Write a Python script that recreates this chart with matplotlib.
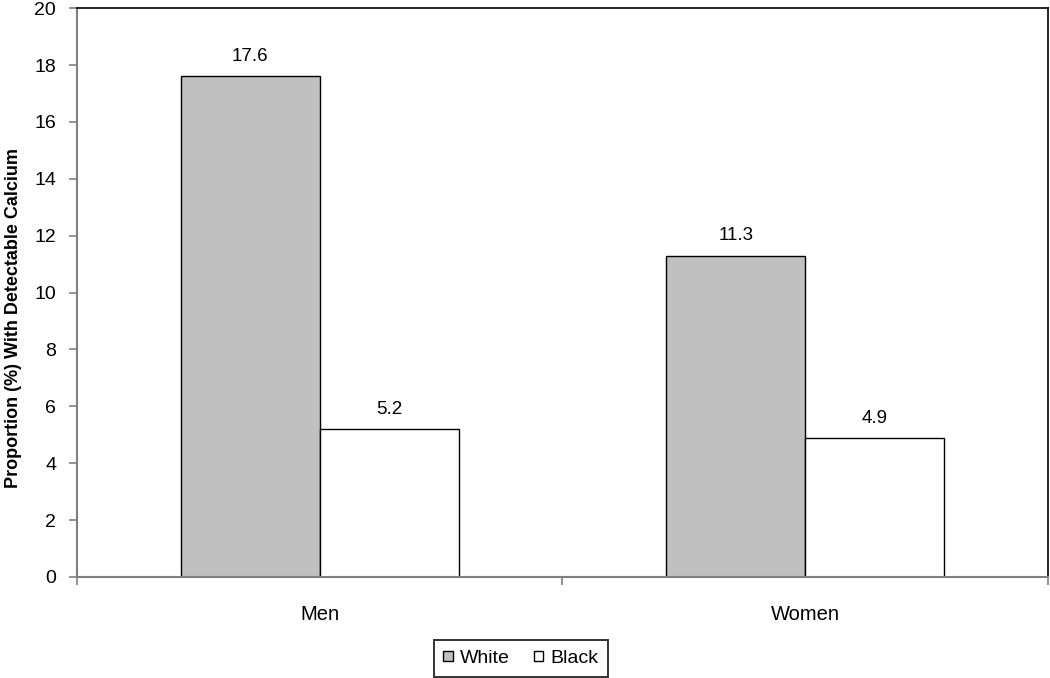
import matplotlib
matplotlib.use("Agg")
import matplotlib.pyplot as plt
import numpy as np

categories = ["Men", "Women"]
series_names = ["White", "Black"]
white_values = [17.6, 11.3]
black_values = [5.2, 4.9]
yticks = [0, 2, 4, 6, 8, 10, 12, 14, 16, 18, 20]

plt.rcParams['font.family'] = ['Liberation Sans', 'DejaVu Sans']

fig = plt.figure(figsize=(10.5, 6.78), dpi=100)
ax = fig.add_axes([0.0733, 0.149, 0.9247, 0.839])

x = np.arange(len(categories))
w = 0.2863
b1 = ax.bar(x - w/2, white_values, w, color="#c0c0c0", edgecolor="black", linewidth=1.0, label=series_names[0])
b2 = ax.bar(x + w/2, black_values, w, color="white", edgecolor="black", linewidth=1.0, label=series_names[1])

for bars, vals in ((b1, white_values), (b2, black_values)):
    for r, v in zip(bars, vals):
        ax.annotate(f"{v:.1f}", (r.get_x() + r.get_width()/2, v), xytext=(0, 8),
                    textcoords="offset points", ha="center", va="bottom", fontsize=13.5)

ax.set_xlim(-0.5, 1.5)
ax.set_ylim(0, 20)
ax.set_yticks(yticks)
ax.set_yticklabels([str(t) for t in yticks], fontsize=14)
ax.set_xticks(x)
ax.set_xticklabels(categories, fontsize=14.5)
ax.tick_params(axis='x', length=0, pad=20)
ax.set_xticks([-0.5, 0.5, 1.5], minor=True)
ax.tick_params(axis='x', which='minor', length=6, color="#808080", width=1.2, direction='out')
ax.tick_params(axis='y', length=6, color="#808080", width=1.2, direction='out', pad=9)

for s in ('left', 'bottom'):
    ax.spines[s].set_color("#808080")
    ax.spines[s].set_linewidth(1.5)
for s in ('top', 'right'):
    ax.spines[s].set_color("black")
    ax.spines[s].set_linewidth(1.2)

ax.set_ylabel("Proportion (%) With Detectable Calcium", fontsize=13, fontweight='bold')
ax.yaxis.set_label_coords(-0.057, 0.455)

leg = fig.legend(handles=[b1, b2], labels=series_names, loc='center', bbox_to_anchor=(521/1050, 1 - 658.5/678),
                 ncol=2, frameon=True, fancybox=False, edgecolor="black", fontsize=14,
                 handlelength=0.47, handleheight=0.47, handletextpad=0.4, columnspacing=1.2,
                 borderpad=0.5)
leg.get_frame().set_linewidth(1.4)

fig.savefig("out.png", dpi=100)
